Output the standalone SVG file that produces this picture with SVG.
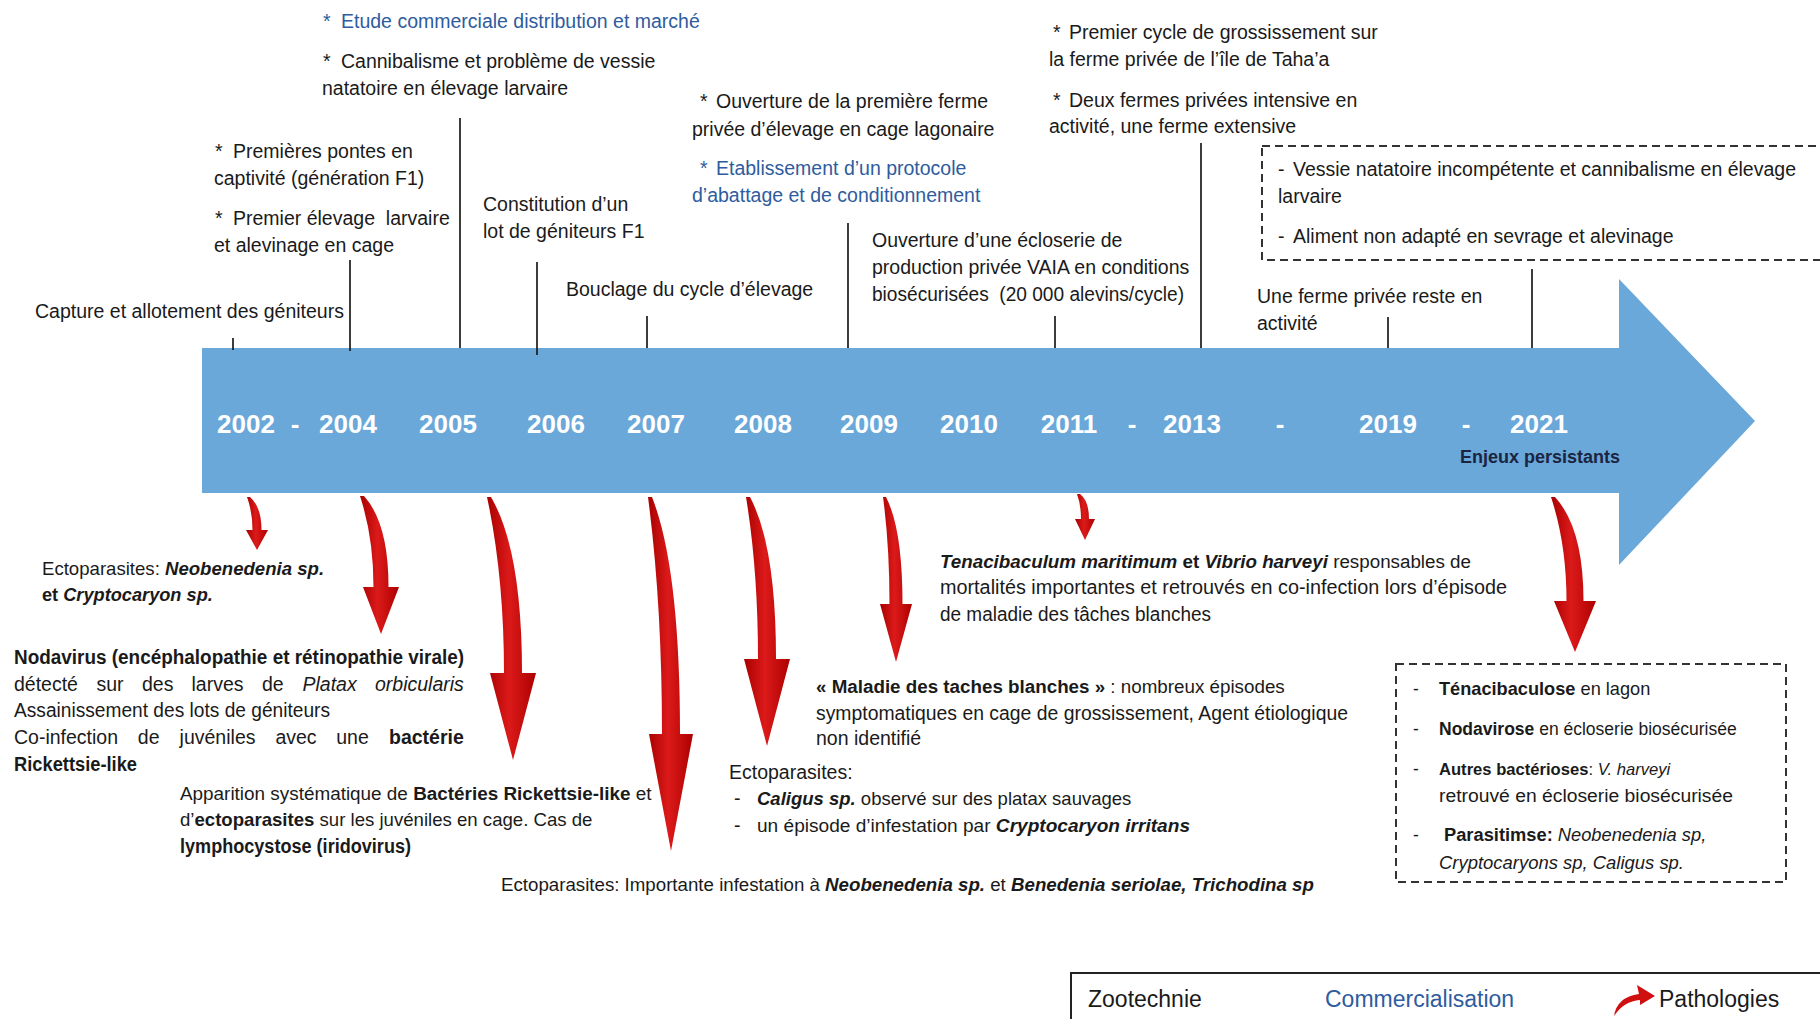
<svg xmlns="http://www.w3.org/2000/svg" width="1820" height="1019" viewBox="0 0 1820 1019">
<defs>
<style>
text{font-family:"Liberation Sans",Arial,sans-serif;font-size:19.5px;fill:#1a1a1a}
.b{font-weight:bold}
.i{font-style:italic}
.bl{fill:#2e5c9e}
.yr{font-size:26px;font-weight:bold;fill:#ffffff;text-anchor:middle}
.sm{font-size:17.5px}
.pre{white-space:pre}
.tick{stroke:#1a1a1a;stroke-width:1.7;fill:none}
.dash{fill:none;stroke:#333;stroke-width:2;stroke-dasharray:8 5}
.red{fill:url(#rg)}
.lg{font-size:23px}
</style>
<linearGradient id="rg" x1="0" y1="0" x2="1" y2="0">
<stop offset="0" stop-color="#a80000"/>
<stop offset="0.45" stop-color="#dc1a1a"/>
<stop offset="1" stop-color="#ad0000"/>
</linearGradient>
</defs>
<rect width="1820" height="1019" fill="#ffffff"/>

<g id="timeline">
<polygon points="202,348 1619,348 1619,279 1755,421 1619,565 1619,493 202,493" fill="#6aa8d9"/>
<text class="yr" x="246" y="433">2002</text>
<text class="yr" x="295" y="433">-</text>
<text class="yr" x="348" y="433">2004</text>
<text class="yr" x="448" y="433">2005</text>
<text class="yr" x="556" y="433">2006</text>
<text class="yr" x="656" y="433">2007</text>
<text class="yr" x="763" y="433">2008</text>
<text class="yr" x="869" y="433">2009</text>
<text class="yr" x="969" y="433">2010</text>
<text class="yr" x="1069" y="433">2011</text>
<text class="yr" x="1132" y="433">-</text>
<text class="yr" x="1192" y="433">2013</text>
<text class="yr" x="1280" y="433">-</text>
<text class="yr" x="1388" y="433">2019</text>
<text class="yr" x="1466" y="433">-</text>
<text class="yr" x="1539" y="433">2021</text>
<text class="b" x="1460" y="463" style="font-size:18px;fill:#1b2440">Enjeux persistants</text>
</g>

<g id="connectors">
<line class="tick" x1="233" y1="338" x2="233" y2="350"/>
<line class="tick" x1="350" y1="260" x2="350" y2="351"/>
<line class="tick" x1="460" y1="118" x2="460" y2="348"/>
<line class="tick" x1="537" y1="262" x2="537" y2="355"/>
<line class="tick" x1="647" y1="316" x2="647" y2="348"/>
<line class="tick" x1="848" y1="223" x2="848" y2="348"/>
<line class="tick" x1="1055" y1="316" x2="1055" y2="348"/>
<line class="tick" x1="1201" y1="143" x2="1201" y2="348"/>
<line class="tick" x1="1388" y1="317" x2="1388" y2="348"/>
<line class="tick" x1="1532" y1="269" x2="1532" y2="348"/>
<path class="red" d="M247,497 Q252.5,512 252.5,530 L246,530 L257,550 L268,530 L261.5,530 Q261.5,507 250,497 Z"/>
<path class="red" d="M360,496 Q373.5,537 373.5,587 L363,587 L381,634 L399,587 L388.5,587 Q388.5,523 364,496 Z"/>
<path class="red" d="M487,497 Q504,576 504,673 L490,673 L513,760 L536,673 L522,673 Q522,550 491,497 Z"/>
<path class="red" d="M648,497 Q662,604 662,734 L649,734 L671,851 L693,734 L680,734 Q680,568 652,497 Z"/>
<path class="red" d="M746,497 Q758,570 758,659 L744,659 L767,746 L790,659 L776,659 Q776,546 750,497 Z"/>
<path class="red" d="M883,497 Q889.5,545 889.5,604 L880,604 L896,662 L912,604 L902.5,604 Q902.5,529 886,497 Z"/>
<path class="red" d="M1077,494 Q1081,505 1081,519 L1075,519 L1085,540 L1095,519 L1089,519 Q1089,501 1080,494 Z"/>
<path class="red" d="M1551,497 Q1566.5,544 1566.5,601 L1554,601 L1575,652 L1596,601 L1583.5,601 Q1583.5,528 1555,497 Z"/>
</g>

<g id="n-etude">
<text class="bl" x="323" y="28">*<tspan x="341">Etude commerciale distribution et marché</tspan></text>
</g>
<g id="n-cannibalisme">
<text x="323" y="68">*<tspan x="341">Cannibalisme et problème de vessie</tspan></text>
<text x="322" y="95">natatoire en élevage larvaire</text>
</g>
<g id="n-pontes">
<text x="215" y="158">*<tspan x="233">Premières pontes en</tspan></text>
<text x="214" y="185">captivité (génération F1)</text>
<text x="215" y="225" class="pre">*<tspan x="233">Premier élevage  larvaire</tspan></text>
<text x="214" y="252">et alevinage en cage</text>
</g>
<g id="n-capture">
<text x="35" y="318">Capture et allotement des géniteurs</text>
</g>
<g id="n-constitution">
<text x="483" y="211">Constitution d’un</text>
<text x="483" y="238">lot de géniteurs F1</text>
</g>
<g id="n-bouclage">
<text x="566" y="296">Bouclage du cycle d’élevage</text>
</g>
<g id="n-ouverture-ferme">
<text x="700" y="108">*<tspan x="716">Ouverture de la première ferme</tspan></text>
<text x="692" y="136">privée d’élevage en cage lagonaire</text>
</g>
<g id="n-abattage">
<text class="bl" x="700" y="175">*<tspan x="716">Etablissement d’un protocole</tspan></text>
<text class="bl" x="692" y="202">d’abattage et de conditionnement</text>
</g>
<g id="n-ecloserie">
<text x="872" y="247">Ouverture d’une écloserie de</text>
<text x="872" y="274">production privée VAIA en conditions</text>
<text x="872" y="301" class="pre" textLength="312" lengthAdjust="spacingAndGlyphs">biosécurisées  (20 000 alevins/cycle)</text>
</g>
<g id="n-grossissement">
<text x="1053" y="39">*<tspan x="1069">Premier cycle de grossissement sur</tspan></text>
<text x="1049" y="66">la ferme privée de l’île de Taha’a</text>
<text x="1053" y="107">*<tspan x="1069">Deux fermes privées intensive en</tspan></text>
<text x="1049" y="133">activité, une ferme extensive</text>
</g>
<g id="n-enjeux-zootechnie">
<rect class="dash" x="1262" y="146" width="580" height="114"/>
<text x="1278" y="176">-<tspan x="1293">Vessie natatoire incompétente et cannibalisme en élevage</tspan></text>
<text x="1278" y="203">larvaire</text>
<text x="1278" y="243">-<tspan x="1293">Aliment non adapté en sevrage et alevinage</tspan></text>
</g>
<g id="n-ferme-reste">
<text x="1257" y="303">Une ferme privée reste en</text>
<text x="1257" y="330">activité</text>
</g>

<g id="p-2002">
<text x="42" y="575" style="font-size:18.6px">Ectoparasites: <tspan class="b i">Neobenedenia sp.</tspan></text>
<text x="42" y="601" class="b" style="font-size:18.2px">et <tspan class="i">Cryptocaryon sp.</tspan></text>
</g>
<g id="p-2004">
<text x="14" y="664" class="b" textLength="450" lengthAdjust="spacingAndGlyphs">Nodavirus (encéphalopathie et rétinopathie virale)</text>
<text y="691"><tspan x="14">détecté</tspan><tspan x="96.5">sur</tspan><tspan x="142">des</tspan><tspan x="191.5">larves</tspan><tspan x="262">de</tspan><tspan x="302.5" class="i">Platax</tspan><tspan x="375" class="i">orbicularis</tspan></text>
<text x="14" y="717" textLength="316" lengthAdjust="spacingAndGlyphs">Assainissement des lots de géniteurs</text>
<text y="744"><tspan x="14">Co-infection</tspan><tspan x="137.8">de</tspan><tspan x="179.6">juvéniles</tspan><tspan x="275.4">avec</tspan><tspan x="336.2">une</tspan><tspan x="389" class="b">bactérie</tspan></text>
<text x="14" y="771" class="b" textLength="123" lengthAdjust="spacingAndGlyphs">Rickettsie-like</text>
</g>
<g id="p-2005">
<text x="180" y="800" style="font-size:18.9px">Apparition systématique de <tspan class="b">Bactéries Rickettsie-like</tspan> et</text>
<text x="180" y="826" style="font-size:18.6px">d’<tspan class="b">ectoparasites</tspan> sur les juvéniles en cage. Cas de</text>
<text x="180" y="853" class="b" textLength="231" lengthAdjust="spacingAndGlyphs">lymphocystose (iridovirus)</text>
</g>
<g id="p-2007">
<text x="501" y="891" style="font-size:18.7px">Ectoparasites: Importante infestation à <tspan class="b i">Neobenedenia sp.</tspan> et <tspan class="b i">Benedenia seriolae, Trichodina sp</tspan></text>
</g>
<g id="p-2008">
<text x="729" y="779">Ectoparasites:</text>
<text x="734" y="805">-</text>
<text x="757" y="805" style="font-size:18.5px"><tspan class="b i">Caligus sp.</tspan> observé sur des platax sauvages</text>
<text x="734" y="832">-</text>
<text x="757" y="832" style="font-size:19.1px">un épisode d’infestation par <tspan class="b i">Cryptocaryon irritans</tspan></text>
</g>
<g id="p-2009">
<text x="816" y="693" style="font-size:18.8px"><tspan class="b">« Maladie des taches blanches »</tspan> : nombreux épisodes</text>
<text x="816" y="720" textLength="532" lengthAdjust="spacingAndGlyphs">symptomatiques en cage de grossissement, Agent étiologique</text>
<text x="816" y="745">non identifié</text>
</g>
<g id="p-2011">
<text x="940" y="568" style="font-size:18.8px"><tspan class="b i">Tenacibaculum maritimum</tspan><tspan class="b"> et </tspan><tspan class="b i">Vibrio harveyi</tspan> responsables de</text>
<text x="940" y="594" textLength="567" lengthAdjust="spacingAndGlyphs">mortalités importantes et retrouvés en co-infection lors d’épisode</text>
<text x="940" y="621" textLength="271" lengthAdjust="spacingAndGlyphs">de maladie des tâches blanches</text>
</g>
<g id="p-2021">
<rect class="dash" x="1396" y="664" width="390" height="218"/>
<text class="sm" x="1413" y="695">-</text>
<text x="1439" y="695" style="font-size:18.2px"><tspan class="b">Ténacibaculose</tspan> en lagon</text>
<text class="sm" x="1413" y="735">-</text>
<text class="sm" x="1439" y="735"><tspan class="b">Nodavirose</tspan> en écloserie biosécurisée</text>
<text class="sm" x="1413" y="775">-</text>
<text x="1439" y="775" style="font-size:16.6px"><tspan class="b">Autres bactérioses</tspan>: <tspan class="i">V. harveyi</tspan></text>
<text class="sm" x="1439" y="802" textLength="294" lengthAdjust="spacingAndGlyphs">retrouvé en écloserie biosécurisée</text>
<text class="sm" x="1413" y="841">-</text>
<text x="1444" y="841" style="font-size:18.3px"><tspan class="b">Parasitimse:</tspan> <tspan class="i">Neobenedenia sp,</tspan></text>
<text class="sm i" x="1439" y="869" textLength="245" lengthAdjust="spacingAndGlyphs">Cryptocaryons sp, Caligus sp.</text>
</g>

<g id="legend">
<path d="M1071,1025 L1071,973 L1825,973" fill="none" stroke="#222" stroke-width="2"/>
<text class="lg" x="1088" y="1007">Zootechnie</text>
<text class="lg bl" x="1325" y="1007">Commercialisation</text>
<path d="M1614,1016 Q1617,997 1639,994 L1637,985 L1655,996 L1640,1005 L1640,1000 Q1624,1001 1614,1016 Z" fill="#d01010"/>
<text class="lg" x="1659" y="1007">Pathologies</text>
</g>
</svg>
